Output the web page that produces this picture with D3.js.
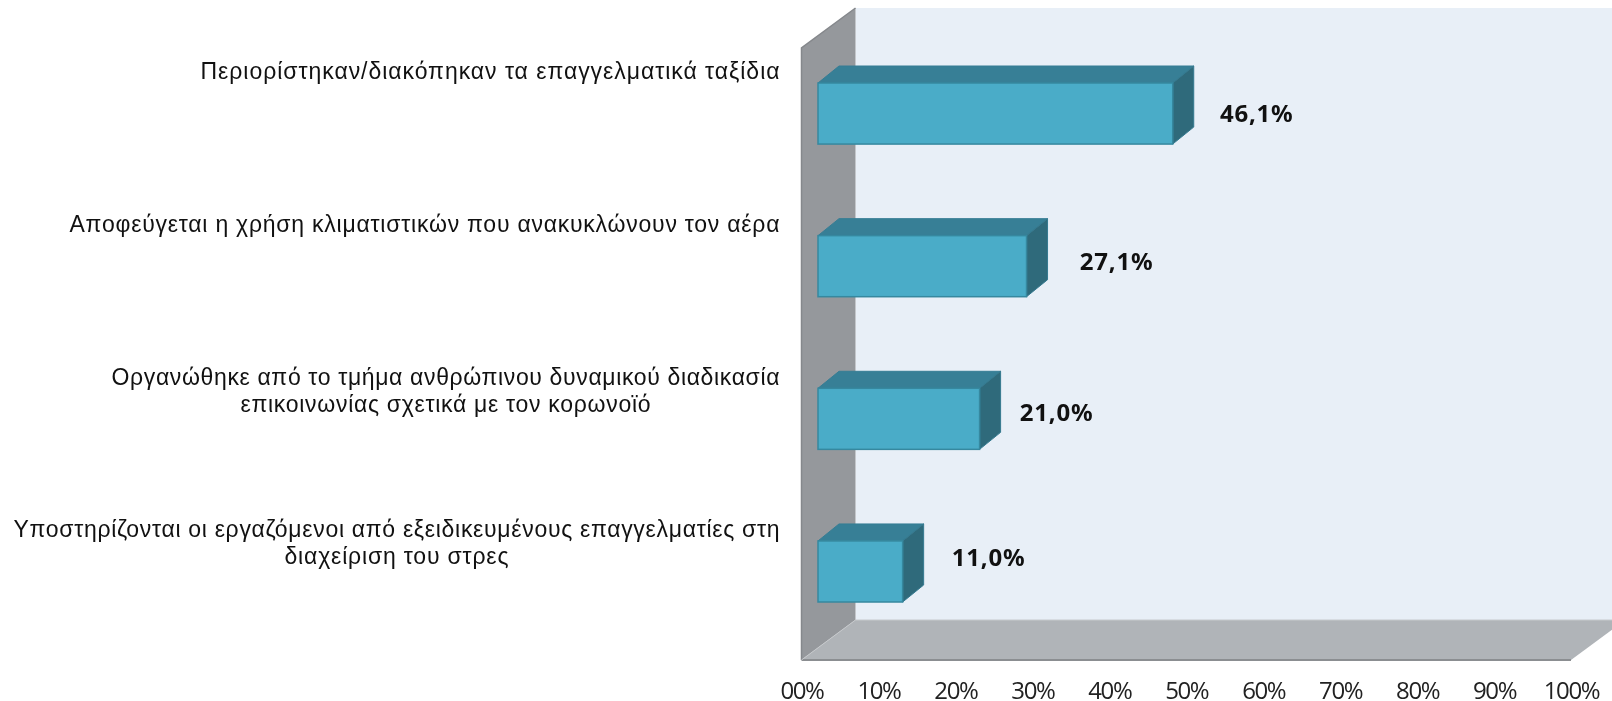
<!DOCTYPE html>
<html>
	<head>
		<title>Bar chart</title>
		<meta charset="utf-8">
		<script src="https://d3js.org/d3.v7.min.js"></script>
		<style>
			html, body { margin: 0; background: #fff; overflow: hidden; }
			svg { display: block; filter: blur(0.5px); }
			.cat { font-family: "Liberation Sans", Arial, sans-serif; font-size: 23px; fill: #111; text-anchor: middle; }
			.val { font-family: "Noto Sans", sans-serif; font-weight: bold; font-size: 24px; fill: #111; text-anchor: middle; letter-spacing: 0.8px; }
			.tick text { font-family: "Open Sans", sans-serif; font-size: 24px; fill: #222; letter-spacing: -1.4px; }
		</style>
	</head>
	<body>
		<svg id="chart" width="1612" height="701"></svg>
		<script>
			// data
			let categories = [
				["Περιορίστηκαν/διακόπηκαν τα επαγγελματικά ταξίδια"],
				["Αποφεύγεται η χρήση κλιματιστικών που ανακυκλώνουν τον αέρα"],
				["Οργανώθηκε από το τμήμα ανθρώπινου δυναμικού διαδικασία", "επικοινωνίας σχετικά με τον κορωνοϊό"],
				["Υποστηρίζονται οι εργαζόμενοι από εξειδικευμένους επαγγελματίες στη", "διαχείριση του στρες"]
			];
			let values = [46.1, 27.1, 21.0, 11.0];
			let tickValues = [0, 10, 20, 30, 40, 50, 60, 70, 80, 90, 100];

			// layout, the labels were placed by hand in the original
			let valueNudge = [[84, 0], [90, -5], [77, -6], [86, -14]];
			let catNudge = [-43, -42, -29, -29];
			let catWidths = [[579], [710], [668, 410], [766, 224]];

			let x = d3.scaleLinear().domain([0, 100]).range([801.5, 1571]);
			let y = d3.scaleBand().domain(d3.range(values.length)).range([83, 602]).paddingInner(0.6);

			let svg = d3.select("#chart");

			// floor and walls
			let wallDx = 54, wallDy = 40;
			let wallTop = 48, wallBottom = 660;
			let poly = (pts) => d3.line()(pts) + "Z";

			svg.append("path")
				.attr("d", poly([[x(0) + wallDx, wallTop - wallDy], [1620, wallTop - wallDy], [1620, wallBottom - wallDy], [x(0) + wallDx, wallBottom - wallDy]]))
				.attr("fill", "#e8eff7");

			svg.append("path")
				.attr("d", poly([[x(0), wallBottom], [x(0) + wallDx, wallBottom - wallDy], [x(100) + wallDx, wallBottom - wallDy], [x(100), wallBottom]]))
				.attr("fill", "#b0b4b8");

			svg.append("path")
				.attr("d", poly([[x(0), wallTop], [x(0) + wallDx, wallTop - wallDy], [x(0) + wallDx, wallBottom - wallDy], [x(0), wallBottom]]))
				.attr("fill", "#95989c");

			svg.append("path")
				.attr("d", d3.line()([[x(0), wallBottom], [x(0), wallTop], [x(0) + wallDx, wallTop - wallDy]]))
				.attr("fill", "none").attr("stroke", "#85888c").attr("stroke-width", 1.5);

			svg.append("path")
				.attr("d", d3.line()([[x(0), wallBottom], [x(100), wallBottom]]))
				.attr("stroke", "#8b8e91").attr("stroke-width", 2);

			svg.append("path")
				.attr("d", d3.line()([[x(0), wallBottom], [x(0) + wallDx, wallBottom - wallDy], [1620, wallBottom - wallDy]]))
				.attr("fill", "none").attr("stroke", "#c6c9cc").attr("stroke-width", 1);

			// bars
			let barShift = 16.5, barDx = 21, barDy = 17;

			let bars = svg.append("g").selectAll("g")
				.data(values)
				.enter()
				.append("g");

			bars.append("path")
				.attr("d", (d, i) => {
					let x0 = x(0) + barShift, x1 = x(d) + barShift, y0 = y(i);
					return poly([[x0, y0], [x0 + barDx, y0 - barDy], [x1 + barDx, y0 - barDy], [x1, y0]]);
				})
				.attr("fill", "#377f96").attr("stroke", "#367d94");

			bars.append("path")
				.attr("d", (d, i) => {
					let x1 = x(d) + barShift, y0 = y(i), y1 = y0 + y.bandwidth();
					return poly([[x1, y0], [x1 + barDx, y0 - barDy], [x1 + barDx, y1 - barDy], [x1, y1]]);
				})
				.attr("fill", "#2f6a7b").attr("stroke", "#357a90");

			bars.append("rect")
				.attr("x", x(0) + barShift)
				.attr("y", (d, i) => y(i))
				.attr("width", (d) => x(d) - x(0))
				.attr("height", y.bandwidth())
				.attr("fill", "#4aacc8")
				.attr("stroke", "#36889f")
				.attr("stroke-width", 1.5);

			// value labels
			bars.append("text")
				.attr("class", "val")
				.attr("x", (d, i) => x(d) + barShift + valueNudge[i][0])
				.attr("y", (d, i) => y(i) + y.bandwidth() / 2 + valueNudge[i][1])
				.attr("dy", "0.36em")
				.text((d) => d.toFixed(1).replace(".", ",") + "%");

			// category labels, one text per line so each can be fitted to its width
			let catGroup = svg.append("g").selectAll("g")
				.data(categories)
				.enter()
				.append("g");

			catGroup.each(function (lines, i)
			{
				let mid = y(i) + y.bandwidth() / 2 + catNudge[i];
				let centre = 779.5 - catWidths[i][0] / 2;

				d3.select(this).selectAll("text")
					.data(lines)
					.enter()
					.append("text")
					.attr("class", "cat")
					.attr("x", centre)
					.attr("y", (d, j) => mid + (j - (lines.length - 1) / 2) * 27)
					.attr("dy", "0.36em")
					.attr("textLength", (d, j) => catWidths[i][j])
					.attr("lengthAdjust", "spacing")
					.text((d) => d);
			});

			// axis
			let axis = d3.axisBottom(x)
				.tickValues(tickValues)
				.tickSize(0)
				.tickPadding(0)
				.tickFormat((d) => (d == 0 ? "00" : d) + "%");

			let axisGroup = svg.append("g")
				.attr("transform", "translate(0,677)")
				.call(axis);

			axisGroup.select(".domain").remove();
			axisGroup.selectAll("text").attr("dy", "0.9em");
		</script>
	</body>
</html>
